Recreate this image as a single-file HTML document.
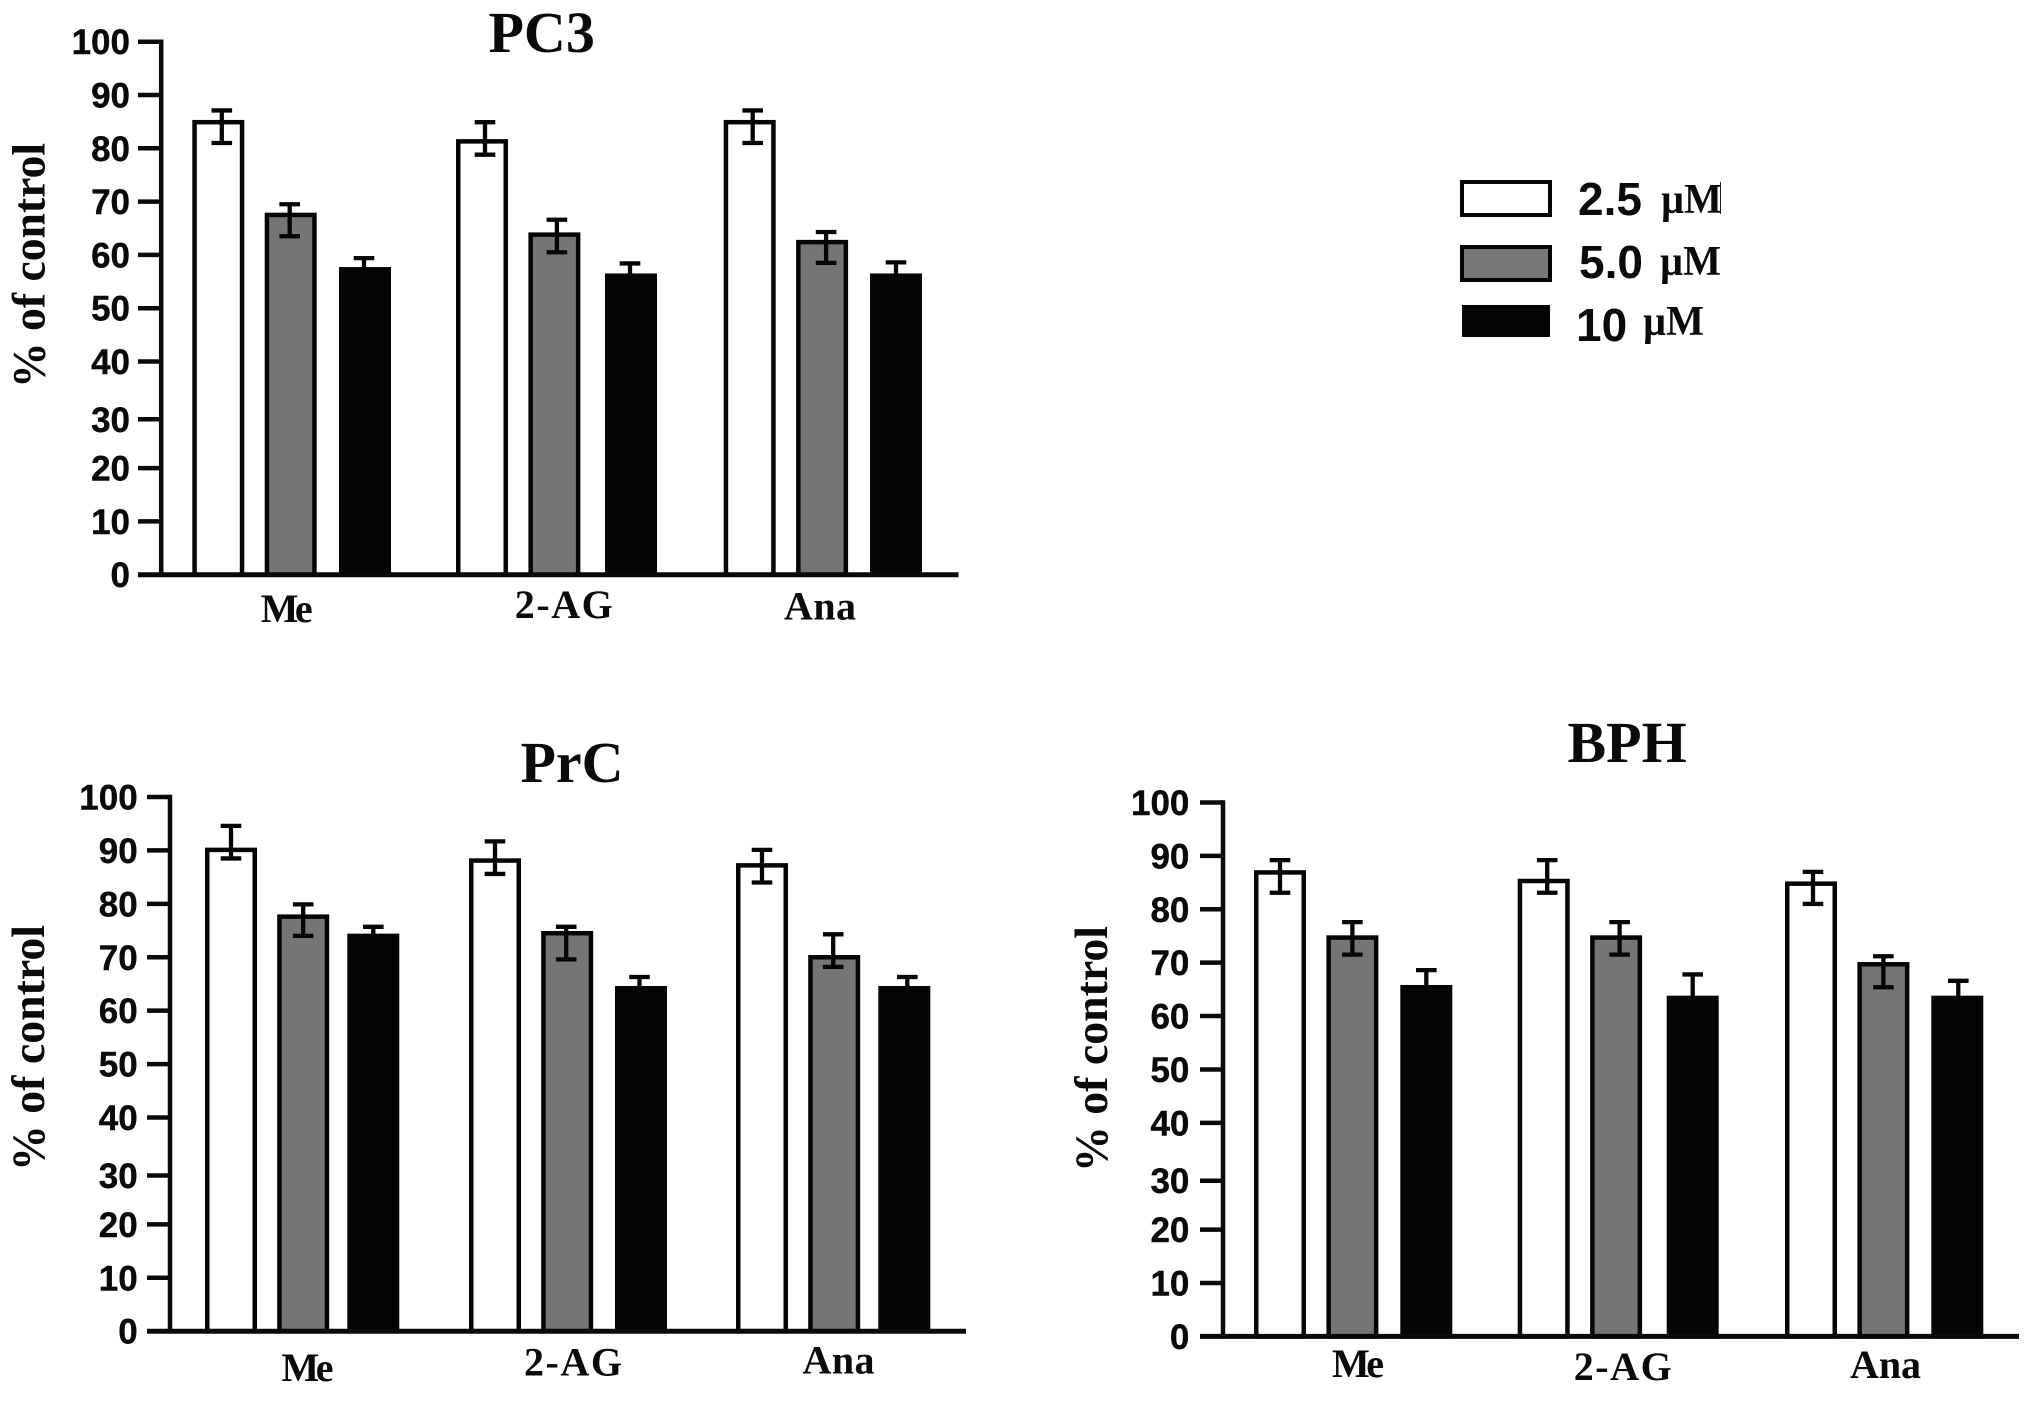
<!DOCTYPE html>
<html lang="en">
<head>
<meta charset="utf-8">
<title>Dose response bar charts: PC3, PrC, BPH</title>
<style>
html,body{margin:0;padding:0;background:#fff;width:2031px;height:1406px;overflow:hidden}
svg{display:block}
.tick{font:bold 35px "Liberation Sans",sans-serif;fill:#0a0a0a;text-anchor:end;stroke:#0a0a0a;stroke-width:.4}
.title{font:bold 58px "Liberation Serif",serif;fill:#0a0a0a}
.ytitle{font:bold 47px "Liberation Serif",serif;fill:#0a0a0a}
.cat{font:bold 40px "Liberation Serif",serif;fill:#0a0a0a}
.legnum{font:bold 46px "Liberation Sans",sans-serif;fill:#0a0a0a}
.legunit{font:bold 42px "Liberation Serif",serif;fill:#0a0a0a}
</style>
</head>
<body>
<svg id="figure" xmlns="http://www.w3.org/2000/svg" width="2031" height="1406" viewBox="0 0 2031 1406">
  <rect x="0" y="0" width="2031" height="1406" fill="#fff"/>
  <g>
    <rect x="1462" y="182" width="88" height="33" fill="#fff" stroke="#050505" stroke-width="4"/>
    <text class="legnum" x="1578" y="215">2.5</text>
    <text class="legunit" x="1661" y="213" textLength="61" lengthAdjust="spacingAndGlyphs">µM</text>
    <line x1="1720.5" y1="182" x2="1720.5" y2="214" stroke="#222" stroke-width="1"/>
    <rect x="1462" y="247" width="88" height="33" fill="#777" stroke="#050505" stroke-width="4"/>
    <text class="legnum" x="1579" y="278">5.0</text>
    <text class="legunit" x="1660" y="275" textLength="61" lengthAdjust="spacingAndGlyphs">µM</text>
    <rect x="1462" y="305" width="88" height="32" fill="#050505"/>
    <text class="legnum" x="1576" y="341">10</text>
    <text class="legunit" x="1643" y="335" textLength="61" lengthAdjust="spacingAndGlyphs">µM</text>
  </g>
</svg>
<script>
// Shared categories, doses and tick labels
const categories = ['Me', '2-AG', 'Ana'];
const doses = ['2.5 µM', '5.0 µM', '10 µM'];
const tickLabels = [0, 10, 20, 30, 40, 50, 60, 70, 80, 90, 100];

// PC3: one row per category, one column per dose
const pc3Means = [[84.9, 67.5, 57.3], [81.3, 63.8, 56.1], [84.9, 62.4, 56.1]];
const pc3Upper = [[87.1, 69.5, 59.4], [84.9, 66.6, 58.4], [87.1, 64.3, 58.6]];
const pc3Lower = [[81.0, 63.5, 55.5], [78.8, 60.5, 54.0], [81.0, 58.5, 54.0]];

// PrC
const prcMeans = [[90.1, 77.6, 74.0], [88.1, 74.5, 64.2], [87.2, 70.0, 64.2]];
const prcUpper = [[94.6, 79.9, 75.7], [91.7, 75.7, 66.3], [90.1, 74.3, 66.3]];
const prcLower = [[88.5, 74.0, 72.0], [85.6, 69.6, 62.0], [84.0, 68.2, 62.0]];

// BPH
const bphMeans = [[86.9, 74.7, 65.4], [85.3, 74.7, 63.4], [84.8, 69.7, 63.4]];
const bphUpper = [[89.2, 77.6, 68.6], [89.2, 77.6, 67.8], [87.0, 71.2, 66.6]];
const bphLower = [[83.1, 71.5, 62.5], [83.1, 71.5, 60.0], [81.0, 65.4, 60.5]];

const SVG_NS = 'http://www.w3.org/2000/svg';
const figure = document.getElementById('figure');
const doseFills = ['#ffffff', '#757575', '#050505'];
const doseSlugs = ['2-5', '5-0', '10'];

function shape(parent, tag, props, text) {
  const el = document.createElementNS(SVG_NS, tag);
  for (const key in props) el.setAttribute(key, props[key]);
  if (text !== undefined) el.textContent = text;
  parent.appendChild(el);
  return el;
}

function drawPanel(cfg) {
  // The source figure has its "30" tick sitting slightly low on every axis.
  const tickShift = t => (t === 30 ? 4.5 : 0);
  const yScale = v => cfg.y0 + (cfg.y100 - cfg.y0) * v / 100;
  const groupLeft = i => cfg.groupLeft + i * cfg.groupStep + (i === 1 ? cfg.midNudge : 0);
  const barLeft = (i, d) => groupLeft(i) + d * cfg.doseStep + (d === 2 ? cfg.blackNudge[i] : 0);
  const sw = 4.5;

  const panel = shape(figure, 'g', {});
  
  

  const title = shape(panel, 'text', { class: 'title', x: cfg.titleX, y: cfg.titleY }, cfg.title);
  
  

  const yTitle = shape(panel, 'text', {
    class: 'ytitle',
    transform: 'translate(' + cfg.yTitleX + ',' + cfg.yTitleBottom + ') rotate(-90)',
    textLength: cfg.yTitleLength,
    lengthAdjust: 'spacingAndGlyphs'
  }, '% of control');
  
  

  categories.forEach((cat, i) => {
    doses.forEach((dose, d) => {
      const left = barLeft(i, d);
      const w = cfg.barWidth;
      const top = yScale(cfg.means[i][d]);
      const bar = shape(panel, 'rect', {
        x: left + sw / 2,
        y: top,
        width: w - sw,
        height: cfg.y0 - top,
        fill: doseFills[d],
        stroke: '#050505',
        'stroke-width': sw
      });
      
      

      const cx = left + w / 2 + cfg.errNudge[i][d];
      const hi = yScale(cfg.upper[i][d]);
      const lo = yScale(cfg.lower[i][d]);
      const err = shape(panel, 'path', {
        d: 'M' + (cx - 10.3) + ' ' + hi + 'H' + (cx + 10.3) + 'M' + cx + ' ' + hi + 'V' + lo + 'M' + (cx - 10.3) + ' ' + lo + 'H' + (cx + 10.3),
        fill: 'none',
        stroke: '#050505',
        'stroke-width': 4.3
      });
      
      
    });

    const label = shape(panel, 'text', {
      class: 'cat',
      x: groupLeft(i) + cfg.catDx + cfg.catNudgeX[i],
      y: cfg.y0 + cfg.catNudgeY[i],
      textLength: cfg.catLength[i],
      lengthAdjust: 'spacing'
    }, cat);
    
    
  });

  tickLabels.forEach(t => {
    const y = yScale(t) + tickShift(t);
    const tick = shape(panel, 'line', { x1: cfg.tickLeft, y1: y, x2: cfg.axisX, y2: y, stroke: '#0a0a0a', 'stroke-width': 4.5 });
    
    
    const label = shape(panel, 'text', { class: 'tick', x: cfg.tickLeft - cfg.labelGap, y: y + 12.5 }, t);
    
    
  });

  const yAxis = shape(panel, 'line', { x1: cfg.axisX, y1: cfg.y100 - 2.2, x2: cfg.axisX, y2: cfg.y0 + 2, stroke: '#0a0a0a', 'stroke-width': 4.5 });
  
  
  const xAxis = shape(panel, 'line', { x1: cfg.tickLeft, y1: cfg.y0, x2: cfg.xEnd, y2: cfg.y0, stroke: '#0a0a0a', 'stroke-width': 5 });
  
  
}

drawPanel({
  slug: 'pc3', title: 'PC3', titleX: 488.5, titleY: 52,
  means: pc3Means, upper: pc3Upper, lower: pc3Lower,
  axisX: 161.2, tickLeft: 138, labelGap: 8, xEnd: 958.5, y100: 41.7, y0: 574.7,
  groupLeft: 192.3, groupStep: 265.7, midNudge: -2, doseStep: 72.4, barWidth: 52,
  blackNudge: [1.9, 4.2, 1.5],
  errNudge: [[3.5, -1, -1], [3, 2.5, -1], [3, 4, 0]],
  yTitleX: 44.5, yTitleBottom: 388, yTitleLength: 245,
  catDx: 68.4, catNudgeX: [0, -9.6, -8.1], catNudgeY: [47.3, 43.3, 44.8], catLength: [52, 98, 72]
});

drawPanel({
  slug: 'prc', title: 'PrC', titleX: 520.5, titleY: 782,
  means: prcMeans, upper: prcUpper, lower: prcLower,
  axisX: 170, tickLeft: 147, labelGap: 9.3, xEnd: 966, y100: 797, y0: 1331.2,
  groupLeft: 205, groupStep: 265.5, midNudge: -1.5, doseStep: 72.2, barWidth: 52,
  blackNudge: [-2.1, 1.6, -2.1],
  errNudge: [[0, 0, 0], [0, -1, -1.5], [0, -1, 3]],
  yTitleX: 44, yTitleBottom: 1171, yTitleLength: 246,
  catDx: 76.5, catNudgeX: [0, -21.5, -10], catNudgeY: [49.8, 44.3, 42.4], catLength: [52, 98, 72]
});

drawPanel({
  slug: 'bph', title: 'BPH', titleX: 1567.5, titleY: 762,
  means: bphMeans, upper: bphUpper, lower: bphLower,
  axisX: 1223, tickLeft: 1200, labelGap: 10.6, xEnd: 2019, y100: 802.5, y0: 1336.4,
  groupLeft: 1254, groupStep: 265.5, midNudge: -1.8, doseStep: 72.4, barWidth: 52,
  blackNudge: [1.5, 4.2, 1.5],
  errNudge: [[0, 0, 0], [3.5, 3.5, 0], [2, 0, 1]],
  yTitleX: 1107, yTitleBottom: 1172, yTitleLength: 246,
  catDx: 78, catNudgeX: [0, -22, -13], catNudgeY: [40.6, 43.6, 41.6], catLength: [52, 98, 71]
});
</script>
</body>
</html>
